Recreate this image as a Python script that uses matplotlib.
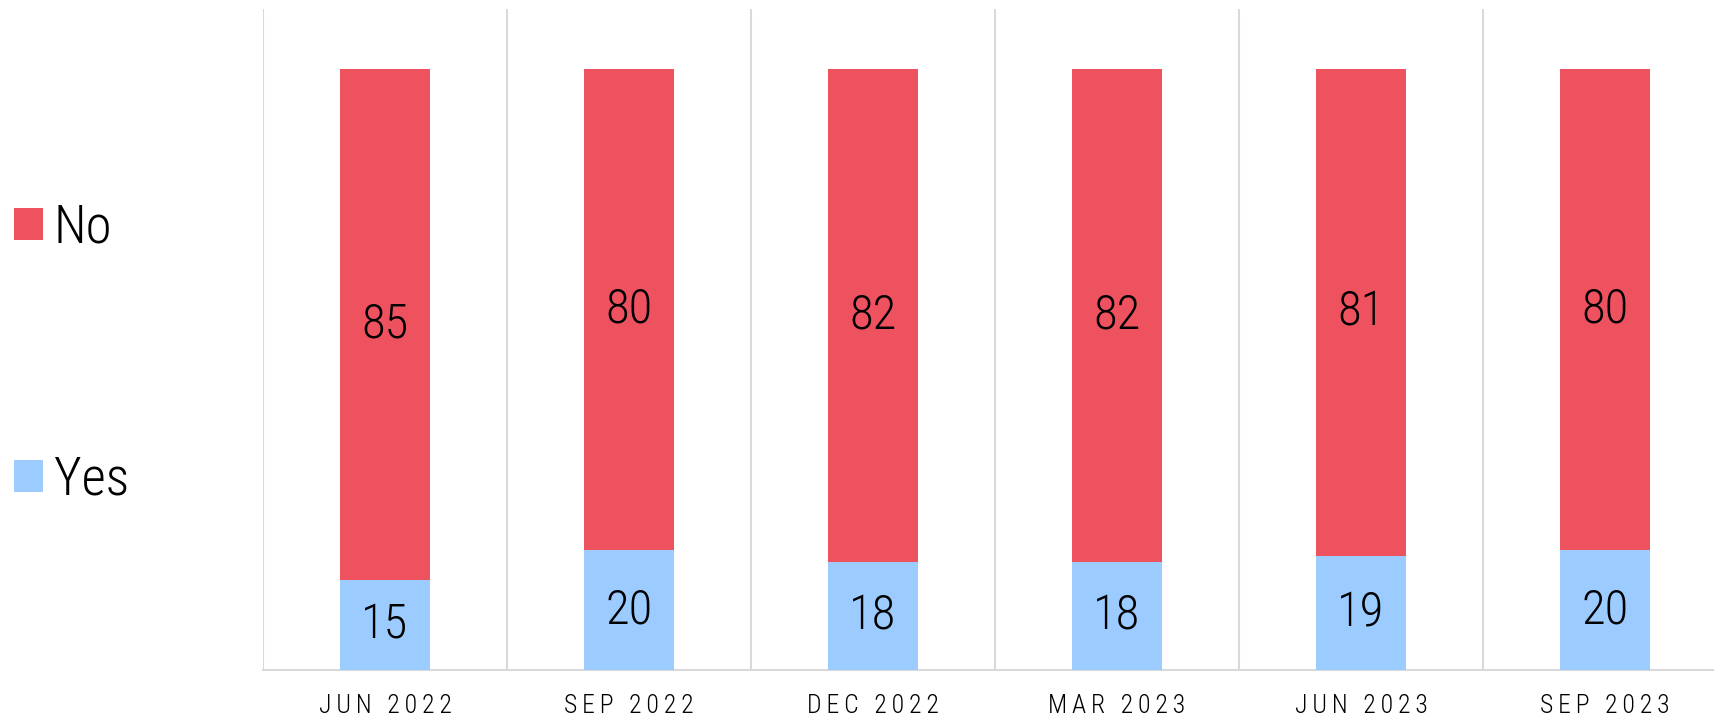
import matplotlib
matplotlib.use("Agg")
import matplotlib.pyplot as plt
from matplotlib import font_manager
from matplotlib.patches import Patch
import numpy as np

categories = ["JUN 2022", "SEP 2022", "DEC 2022", "MAR 2023", "JUN 2023", "SEP 2023"]
yes_vals = [15, 20, 18, 18, 19, 20]
no_vals = [85, 80, 82, 82, 81, 80]

RED = "#EE525E"
BLUE = "#9BCBFF"
GRID = "#D9D9D9"

names = {f.name for f in font_manager.fontManager.ttflist}
narrow = None
for cand in ["Liberation Sans Narrow", "Roboto Condensed", "Open Sans Condensed", "DejaVu Sans Condensed", "Liberation Sans"]:
    if cand in names:
        narrow = cand
        break
fam = [narrow, "DejaVu Sans"]
plt.rcParams["font.family"] = fam
plt.rcParams["font.weight"] = "light"

fig = plt.figure(figsize=(17.14, 7.22), dpi=100)
ax = fig.add_axes([263/1714, 52/722, 1464/1714, 661/722])

x = np.arange(len(categories))
b1 = ax.bar(x, yes_vals, width=0.37, color=BLUE, label="Yes", zorder=3)
b2 = ax.bar(x, no_vals, width=0.37, bottom=yes_vals, color=RED, label="No", zorder=3)
ax.bar_label(b1, labels=[str(v) for v in yes_vals], label_type="center", fontsize=35,
             color="black", fontweight="light")
ax.bar_label(b2, labels=[str(v) for v in no_vals], label_type="center", fontsize=35,
             color="black", fontweight="light")

ax.set_xlim(-0.5, len(categories) - 0.5)
ax.set_ylim(0, 110)
ax.set_yticks([])
ax.set_xticks(x)
spaced = ["\u2009".join(list(c)) for c in categories]
ax.set_xticklabels(spaced, fontsize=18.5, family=fam, fontweight="light")
ax.tick_params(axis="x", length=0, pad=17)
ax.set_xticks(np.arange(-0.5, len(categories), 1.0), minor=True)
ax.tick_params(axis="x", which="minor", length=0)
ax.grid(axis="x", which="minor", color=GRID, linewidth=1.5, zorder=0)
ax.grid(axis="x", which="major", visible=False)
for s in ["top", "right", "left"]:
    ax.spines[s].set_visible(False)
ax.spines["bottom"].set_color(GRID)
ax.spines["bottom"].set_linewidth(1.5)

handles = [Patch(facecolor=RED, edgecolor="none", label="No"),
           Patch(facecolor=BLUE, edgecolor="none", label="Yes")]
fig.legend(handles=handles, loc="upper left", bbox_to_anchor=(0.002, 0.735),
           frameon=False, handlelength=0.55, handleheight=0.55,
           handletextpad=0.2, labelspacing=3.8, borderpad=0.2, borderaxespad=0,
           prop={"family": fam, "weight": "light", "size": 38})

fig.savefig("out.png", dpi=100)
